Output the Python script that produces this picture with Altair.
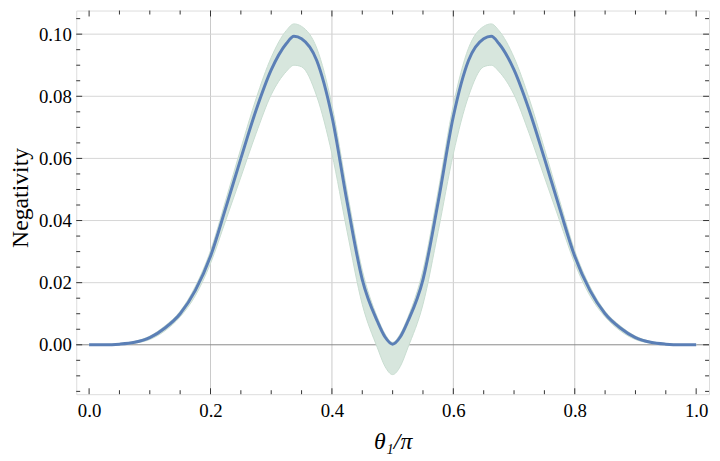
import altair as alt
import pandas as pd

# ---- data ----
theta = [0.0, 0.025, 0.05, 0.075, 0.1, 0.125, 0.15, 0.175, 0.2, 0.225, 0.25, 0.275, 0.3, 0.325, 0.3375,
         0.35, 0.375, 0.4, 0.425, 0.45, 0.475, 0.4875, 0.5, 0.5125, 0.525, 0.55, 0.575, 0.6, 0.625, 0.65,
         0.6625, 0.675, 0.7, 0.725, 0.75, 0.775, 0.8, 0.825, 0.85, 0.875, 0.9, 0.925, 0.95, 0.975, 1.0]
negativity = [0.0000, 0.0000, 0.0002, 0.0008, 0.0023, 0.0054, 0.0100, 0.0175, 0.0285, 0.0440, 0.0600,
              0.0755, 0.0885, 0.0970, 0.0993, 0.0985, 0.0915, 0.0735, 0.0460, 0.0210, 0.0075, 0.0025,
              0.0002,
              0.0025, 0.0075, 0.0210, 0.0460, 0.0735, 0.0915, 0.0985, 0.0993, 0.0970, 0.0885, 0.0755,
              0.0600, 0.0440, 0.0285, 0.0175, 0.0100, 0.0054, 0.0023, 0.0008, 0.0002, 0.0000, 0.0000]
band_upper = [0.0001, 0.0001, 0.0004, 0.0011, 0.0028, 0.0061, 0.0108, 0.0188, 0.0303, 0.0465, 0.0632,
              0.0792, 0.0925, 0.1012, 0.1033, 0.1025, 0.0955, 0.0772, 0.0495, 0.0240, 0.0088, 0.0035,
              0.0008,
              0.0035, 0.0088, 0.0240, 0.0495, 0.0772, 0.0955, 0.1025, 0.1033, 0.1012, 0.0925, 0.0792,
              0.0632, 0.0465, 0.0303, 0.0188, 0.0108, 0.0061, 0.0028, 0.0011, 0.0004, 0.0001, 0.0001]
band_lower = [-0.0001, -0.0001, 0.0000, 0.0005, 0.0017, 0.0045, 0.0090, 0.0158, 0.0262, 0.0400, 0.0540,
              0.0680, 0.0805, 0.0880, 0.0900, 0.0895, 0.0800, 0.0615, 0.0365, 0.0130, -0.0010, -0.0070,
              -0.0096,
              -0.0070, -0.0010, 0.0130, 0.0365, 0.0615, 0.0800, 0.0895, 0.0900, 0.0880, 0.0805, 0.0680,
              0.0540, 0.0400, 0.0262, 0.0158, 0.0090, 0.0045, 0.0017, 0.0005, 0.0000, -0.0001, -0.0001]

x_major = [0.0, 0.2, 0.4, 0.6, 0.8, 1.0]
x_minor = [0.05, 0.1, 0.15, 0.25, 0.3, 0.35, 0.45, 0.5, 0.55, 0.65, 0.7, 0.75, 0.85, 0.9, 0.95]
x_grid = [0.2, 0.4, 0.6, 0.8]
y_major = [0.0, 0.02, 0.04, 0.06, 0.08, 0.10]
y_minor = [-0.015, -0.01, -0.005, 0.005, 0.01, 0.015, 0.025, 0.03, 0.035, 0.045, 0.05, 0.055,
           0.065, 0.07, 0.075, 0.085, 0.09, 0.095, 0.105]
y_grid = [0.02, 0.04, 0.06, 0.08, 0.10]

X_DOMAIN = [-0.0212, 1.0212]
Y_DOMAIN = [-0.0159, 0.1076]
W, H = 640, 388
FONT = "Liberation Serif"

df = pd.DataFrame({"x": theta, "y": negativity, "lo": band_lower, "hi": band_upper})

xs = alt.Scale(domain=X_DOMAIN, nice=False, zero=False)
ys = alt.Scale(domain=Y_DOMAIN, nice=False, zero=False)

x_axis = alt.Axis(values=x_major, format=".1f", ticks=False, tickSize=0, grid=False, domain=False,
                  labelFont=FONT, labelFontSize=19, labelColor="black", labelPadding=8,
                  title="θ₁/π", titleFont=FONT, titleFontSize=24, titleFontStyle="italic",
                  titleFontWeight="normal", titleColor="black", titleY=48, titleBaseline="middle")
y_axis = alt.Axis(values=y_major, format=".2f", ticks=False, tickSize=0, grid=False, domain=False,
                  labelFont=FONT, labelFontSize=19, labelColor="black", labelPadding=5,
                  title="Negativity", titleFont=FONT, titleFontSize=24, titleFontWeight="normal",
                  titleColor="black", titleX=-56, titleY=189, titleBaseline="middle", titleAlign="center")


def X(field):
    return alt.X(field, scale=xs, axis=x_axis)


def Y(field):
    return alt.Y(field, scale=ys, axis=y_axis)


gx = alt.Chart(pd.DataFrame({"g": x_grid})).mark_rule(color="#c9c9c9", strokeWidth=1).encode(x=X("g:Q"))
gy = alt.Chart(pd.DataFrame({"g": y_grid})).mark_rule(color="#d6d6d6", strokeWidth=1).encode(y=Y("g:Q"))
zero = alt.Chart(pd.DataFrame({"g": [0.0]})).mark_rule(color="#8a8a8a", strokeWidth=1).encode(y=Y("g:Q"))

band = alt.Chart(df).mark_area(color="#d7e6dd", opacity=1, interpolate="monotone",
                               stroke="#c8ddd0", strokeWidth=1).encode(
    x=X("x:Q"), y=Y("lo:Q"), y2="hi:Q")
line = alt.Chart(df).mark_line(color="#5b7fb6", strokeWidth=3, interpolate="monotone").encode(
    x=X("x:Q"), y=Y("y:Q"))

TICK = "#333333"


def xticks(vals, length):
    d = pd.DataFrame({"t": vals})
    bottom = alt.Chart(d).mark_rule(color=TICK, strokeWidth=1).encode(
        x=X("t:Q"), y=alt.value(H), y2=alt.value(H - length))
    top = alt.Chart(d).mark_rule(color=TICK, strokeWidth=1).encode(
        x=X("t:Q"), y=alt.value(0), y2=alt.value(length))
    return [bottom, top]


def yticks(vals, length):
    d = pd.DataFrame({"t": vals})
    left = alt.Chart(d).mark_rule(color=TICK, strokeWidth=1).encode(
        y=Y("t:Q"), x=alt.value(0), x2=alt.value(length))
    right = alt.Chart(d).mark_rule(color=TICK, strokeWidth=1).encode(
        y=Y("t:Q"), x=alt.value(W), x2=alt.value(W - length))
    return [left, right]


layers = [gx, gy, zero, band, line] + xticks(x_major, 6) + xticks(x_minor, 4) \
    + yticks(y_major, 6) + yticks(y_minor, 4)

chart = alt.layer(*layers).properties(
    width=W, height=H,
    autosize=alt.AutoSizeParams(type="none"),
    padding={"left": 69, "top": 0, "right": 3, "bottom": 65},
).configure_view(stroke="#6e6e6e", strokeWidth=1.5).configure(background="white")

chart.save("out.html", embed_options={"renderer": "svg", "actions": False})
